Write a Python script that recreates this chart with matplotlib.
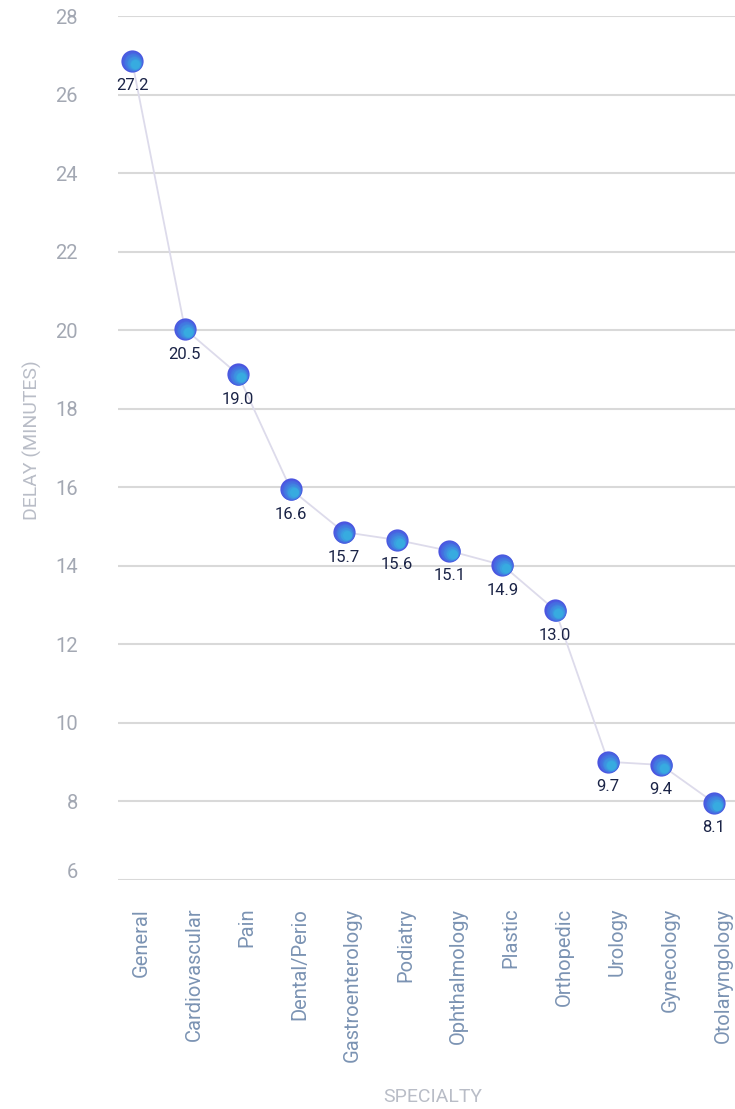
import numpy as np
import matplotlib.pyplot as plt
import matplotlib.transforms as mtransforms
from matplotlib.colors import to_rgb

plt.rcParams["font.family"] = ["Roboto", "DejaVu Sans"]

specialties = [
    "General", "Cardiovascular", "Pain", "Dental/Perio", "Gastroenterology",
    "Podiatry", "Ophthalmology", "Plastic", "Orthopedic", "Urology",
    "Gynecology", "Otolaryngology",
]
# where the points sit on the axis
delay_plotted = [26.86, 20.03, 18.88, 15.95, 14.86, 14.66, 14.38, 14.02, 12.87, 9.01, 8.93, 7.97]
# what the point labels say
delay_labels = ["27.2", "20.5", "19.0", "16.6", "15.7", "15.6", "15.1", "14.9", "13.0", "9.7", "9.4", "8.1"]
y_ticks = list(range(6, 29, 2))

W, H = 735, 1109
fig = plt.figure(figsize=(W / 100, H / 100), dpi=100)
ax = fig.add_axes([118 / W, 1 - 880 / H, 617 / W, 864 / H])

x = np.arange(len(specialties))
ax.plot(x, delay_plotted, color="#dddbeb", lw=1.3, zorder=2, clip_on=False)

# fake the diagonal gradient on the markers with stacked, shifted discs
c0 = np.array(to_rgb("#4b55e0"))
c1 = np.array(to_rgb("#37abe0"))
n_layers = 8
for k in range(n_layers):
    t = k / (n_layers - 1)
    shift = 3.2 * t  # px towards lower-right
    tr = ax.transData + mtransforms.ScaledTranslation(shift / 100, -shift / 100, fig.dpi_scale_trans)
    ax.plot(x, delay_plotted, "o", ms=16 - 9.5 * t, color=c0 + (c1 - c0) * t,
            mec="none", zorder=3 + k * 0.01, clip_on=False, transform=tr)

for xi, yi, lab in zip(x, delay_plotted, delay_labels):
    ax.annotate(lab, (xi, yi), xytext=(0, -18), textcoords="offset points",
                ha="center", va="center", fontsize=12, color="#1b2447", zorder=5)

ax.set_xlim(-14 / 52.9, 11 + 21 / 52.9)
ax.set_ylim(6, 28)
ax.set_yticks(y_ticks)
ax.set_xticks(x)
ax.set_xticklabels(specialties, rotation=90, ha="center", va="top",
                   fontsize=14.5, color="#7b93b3")
ax.tick_params(axis="x", length=0, pad=20)
ax.tick_params(axis="y", length=0, pad=29, labelsize=14.5, labelcolor="#a3a8b3")
off = mtransforms.ScaledTranslation(9 / 100, 0, fig.dpi_scale_trans)
for lbl in ax.get_xticklabels():
    lbl.set_transform(lbl.get_transform() + off)
# the bottom tick label sits a little higher in the original
ylbls = ax.get_yticklabels()
ylbls[0].set_transform(ylbls[0].get_transform()
                       + mtransforms.ScaledTranslation(0, 10 / 100, fig.dpi_scale_trans))

ax.grid(axis="y", color="#d9d9d9", lw=1.5)
ax.set_axisbelow(True)
for s in ax.spines.values():
    s.set_visible(False)

fig.text(32 / W, 1 - 440 / H, "DELAY (MINUTES)", rotation=90, ha="center", va="center",
         fontsize=14, color="#b9bdc7")
fig.text(433 / W, 1 - 1097 / H, "SPECIALTY", ha="center", va="center",
         fontsize=14, color="#b9bdc7")

fig.savefig("out.png", dpi=100)
